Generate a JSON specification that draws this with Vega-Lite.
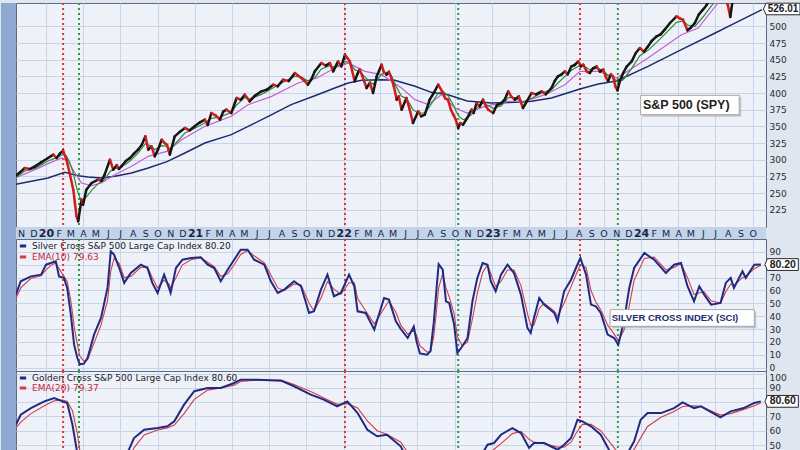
{
  "$schema": "https://vega.github.io/schema/vega-lite/v6.json",
  "padding": 0,
  "spacing": 12,
  "bounds": "flush",
  "background": "#dfe6f0",
  "config": {
    "font": "DejaVu Sans",
    "view": {"fill": "#eef2f8", "stroke": "#5f6b80", "strokeWidth": 1},
    "axis": {"labelFont": "DejaVu Sans", "labelColor": "#2b2b2b", "labelFontSize": 9, "gridColor": "#c6d5e7", "gridWidth": 1}
  },
  "resolve": {"scale": {"x": "independent", "y": "independent", "color": "independent"}},
  "datasets": {
    "signals": [
      {"date": "2020-02-12", "kind": "sell"},
      {"date": "2020-03-22", "kind": "buy"},
      {"date": "2022-01-04", "kind": "sell"},
      {"date": "2022-10-09", "kind": "buy"},
      {"date": "2023-08-04", "kind": "sell"},
      {"date": "2023-11-05", "kind": "buy"}
    ],
    "price": [
      {"date":"2019-10-17","v":275},{"date":"2019-10-29","v":281},{"date":"2019-11-10","v":287.5},{"date":"2019-11-22","v":286},{"date":"2019-12-05","v":290},{"date":"2019-12-20","v":296},{"date":"2020-01-06","v":302.5},{"date":"2020-01-19","v":307.5},{"date":"2020-01-27","v":302.5},{"date":"2020-02-04","v":309},{"date":"2020-02-12","v":313.5},{"date":"2020-02-20","v":300},{"date":"2020-02-28","v":280},{"date":"2020-03-08","v":255},{"date":"2020-03-12","v":235},{"date":"2020-03-16","v":215},{"date":"2020-03-20","v":207.5},{"date":"2020-03-28","v":240},{"date":"2020-04-01","v":232.5},{"date":"2020-04-09","v":255},{"date":"2020-04-22","v":265},{"date":"2020-05-08","v":270},{"date":"2020-05-16","v":268},{"date":"2020-05-24","v":277.5},{"date":"2020-06-06","v":300},{"date":"2020-06-14","v":285},{"date":"2020-06-23","v":292},{"date":"2020-06-28","v":286},{"date":"2020-07-04","v":290},{"date":"2020-07-15","v":298},{"date":"2020-07-25","v":302.5},{"date":"2020-08-04","v":309},{"date":"2020-08-14","v":315},{"date":"2020-08-23","v":322},{"date":"2020-09-01","v":335},{"date":"2020-09-08","v":315},{"date":"2020-09-16","v":320},{"date":"2020-09-24","v":305},{"date":"2020-10-02","v":315},{"date":"2020-10-11","v":330},{"date":"2020-10-18","v":325},{"date":"2020-10-24","v":322.5},{"date":"2020-10-31","v":307.5},{"date":"2020-11-12","v":335},{"date":"2020-11-25","v":342},{"date":"2020-12-07","v":347.5},{"date":"2020-12-19","v":344},{"date":"2020-12-31","v":350},{"date":"2021-01-13","v":356},{"date":"2021-01-25","v":360},{"date":"2021-02-01","v":352},{"date":"2021-02-10","v":370},{"date":"2021-02-21","v":366},{"date":"2021-03-03","v":360},{"date":"2021-03-11","v":372},{"date":"2021-03-19","v":375},{"date":"2021-03-31","v":370},{"date":"2021-04-13","v":392.5},{"date":"2021-04-23","v":390},{"date":"2021-05-03","v":397.5},{"date":"2021-05-15","v":387.5},{"date":"2021-05-28","v":396},{"date":"2021-06-13","v":402.5},{"date":"2021-06-26","v":405},{"date":"2021-07-12","v":412.5},{"date":"2021-07-23","v":410},{"date":"2021-08-05","v":420},{"date":"2021-08-19","v":418},{"date":"2021-09-03","v":430},{"date":"2021-09-11","v":426},{"date":"2021-09-19","v":422.5},{"date":"2021-09-27","v":418},{"date":"2021-10-05","v":412.5},{"date":"2021-10-13","v":420},{"date":"2021-10-22","v":432.5},{"date":"2021-11-07","v":445},{"date":"2021-11-18","v":441},{"date":"2021-11-28","v":445},{"date":"2021-12-06","v":432.5},{"date":"2021-12-18","v":447.5},{"date":"2021-12-26","v":440},{"date":"2022-01-04","v":457.5},{"date":"2022-01-16","v":447.5},{"date":"2022-01-28","v":417.5},{"date":"2022-02-03","v":428},{"date":"2022-02-09","v":435},{"date":"2022-02-16","v":425},{"date":"2022-02-26","v":407.5},{"date":"2022-03-06","v":415},{"date":"2022-03-14","v":400},{"date":"2022-03-23","v":425},{"date":"2022-04-04","v":442.5},{"date":"2022-04-09","v":432},{"date":"2022-04-16","v":427.5},{"date":"2022-04-22","v":432},{"date":"2022-04-28","v":422.5},{"date":"2022-05-04","v":410},{"date":"2022-05-11","v":390},{"date":"2022-05-16","v":395},{"date":"2022-05-23","v":375},{"date":"2022-06-04","v":392.5},{"date":"2022-06-12","v":375},{"date":"2022-06-20","v":355},{"date":"2022-07-03","v":372.5},{"date":"2022-07-10","v":365},{"date":"2022-07-19","v":367.5},{"date":"2022-07-31","v":390},{"date":"2022-08-10","v":400},{"date":"2022-08-21","v":412.5},{"date":"2022-09-02","v":400},{"date":"2022-09-07","v":392},{"date":"2022-09-14","v":390},{"date":"2022-09-21","v":375},{"date":"2022-09-27","v":367.5},{"date":"2022-10-03","v":360},{"date":"2022-10-09","v":347.5},{"date":"2022-10-14","v":355},{"date":"2022-10-21","v":352.5},{"date":"2022-10-31","v":362.5},{"date":"2022-11-11","v":375},{"date":"2022-11-16","v":370},{"date":"2022-11-23","v":385},{"date":"2022-12-01","v":380},{"date":"2022-12-09","v":390},{"date":"2022-12-16","v":380},{"date":"2022-12-22","v":375},{"date":"2023-01-03","v":370},{"date":"2023-01-12","v":382},{"date":"2023-01-23","v":385},{"date":"2023-01-31","v":390},{"date":"2023-02-09","v":402.5},{"date":"2023-02-16","v":395},{"date":"2023-02-25","v":390},{"date":"2023-03-07","v":395},{"date":"2023-03-17","v":377.5},{"date":"2023-03-27","v":388},{"date":"2023-04-07","v":400},{"date":"2023-04-18","v":398},{"date":"2023-05-02","v":402.5},{"date":"2023-05-12","v":398},{"date":"2023-05-26","v":407.5},{"date":"2023-06-03","v":418},{"date":"2023-06-11","v":425},{"date":"2023-06-20","v":428},{"date":"2023-06-28","v":432.5},{"date":"2023-07-05","v":428},{"date":"2023-07-14","v":440},{"date":"2023-07-22","v":442},{"date":"2023-07-31","v":447.5},{"date":"2023-08-06","v":440},{"date":"2023-08-12","v":442.5},{"date":"2023-08-21","v":432},{"date":"2023-08-28","v":430},{"date":"2023-09-05","v":437},{"date":"2023-09-14","v":440},{"date":"2023-09-22","v":432},{"date":"2023-09-30","v":435},{"date":"2023-10-06","v":425},{"date":"2023-10-12","v":417.5},{"date":"2023-10-19","v":428},{"date":"2023-10-24","v":425},{"date":"2023-10-30","v":410},{"date":"2023-11-04","v":404},{"date":"2023-11-10","v":418},{"date":"2023-11-18","v":430},{"date":"2023-11-27","v":440},{"date":"2023-12-09","v":447.5},{"date":"2023-12-19","v":460},{"date":"2023-12-29","v":467.5},{"date":"2024-01-08","v":462},{"date":"2024-01-18","v":470},{"date":"2024-01-27","v":478},{"date":"2024-02-08","v":485},{"date":"2024-02-18","v":488},{"date":"2024-02-28","v":495},{"date":"2024-03-12","v":505},{"date":"2024-03-28","v":515},{"date":"2024-04-05","v":512},{"date":"2024-04-13","v":510},{"date":"2024-04-24","v":494},{"date":"2024-05-02","v":498},{"date":"2024-05-12","v":505},{"date":"2024-05-22","v":518},{"date":"2024-06-01","v":525},{"date":"2024-06-10","v":532},{"date":"2024-06-17","v":540},{"date":"2024-07-02","v":548},{"date":"2024-07-14","v":560},{"date":"2024-07-24","v":545},{"date":"2024-08-01","v":532},{"date":"2024-08-07","v":514},{"date":"2024-08-13","v":540},{"date":"2024-08-25","v":555},{"date":"2024-09-06","v":545},{"date":"2024-09-18","v":560},{"date":"2024-10-02","v":565},{"date":"2024-10-14","v":575},{"date":"2024-10-24","v":572}
    ],
    "green": [
      {"date":"2019-10-17","v":273},{"date":"2019-11-10","v":283},{"date":"2019-12-05","v":287},{"date":"2020-01-06","v":298},{"date":"2020-01-27","v":303},{"date":"2020-02-12","v":308},{"date":"2020-02-20","v":306},{"date":"2020-02-28","v":296},{"date":"2020-03-08","v":280},{"date":"2020-03-16","v":258},{"date":"2020-03-24","v":243},{"date":"2020-04-01","v":240},{"date":"2020-04-09","v":244},{"date":"2020-04-22","v":254},{"date":"2020-05-08","v":264},{"date":"2020-05-24","v":270},{"date":"2020-06-06","v":282},{"date":"2020-06-14","v":286},{"date":"2020-06-28","v":288},{"date":"2020-07-15","v":293},{"date":"2020-07-25","v":298},{"date":"2020-08-14","v":310},{"date":"2020-09-01","v":324},{"date":"2020-09-16","v":320},{"date":"2020-09-24","v":315},{"date":"2020-10-11","v":321},{"date":"2020-10-24","v":320},{"date":"2020-10-31","v":316},{"date":"2020-11-12","v":323},{"date":"2020-12-07","v":340},{"date":"2020-12-31","v":347},{"date":"2021-01-25","v":355},{"date":"2021-02-10","v":362},{"date":"2021-03-03","v":364},{"date":"2021-03-19","v":368},{"date":"2021-03-31","v":371},{"date":"2021-04-13","v":382},{"date":"2021-05-03","v":393},{"date":"2021-05-15","v":391},{"date":"2021-06-13","v":398},{"date":"2021-07-12","v":408},{"date":"2021-08-05","v":416},{"date":"2021-09-03","v":425},{"date":"2021-09-19","v":424},{"date":"2021-10-05","v":418},{"date":"2021-10-22","v":423},{"date":"2021-11-07","v":436},{"date":"2021-11-28","v":441},{"date":"2021-12-06","v":439},{"date":"2021-12-18","v":441},{"date":"2022-01-04","v":447},{"date":"2022-01-16","v":446},{"date":"2022-01-28","v":435},{"date":"2022-02-09","v":432},{"date":"2022-02-26","v":422},{"date":"2022-03-14","v":413},{"date":"2022-04-04","v":428},{"date":"2022-04-16","v":431},{"date":"2022-04-28","v":426},{"date":"2022-05-11","v":408},{"date":"2022-05-23","v":395},{"date":"2022-06-04","v":392},{"date":"2022-06-20","v":375},{"date":"2022-07-03","v":370},{"date":"2022-07-19","v":370},{"date":"2022-07-31","v":380},{"date":"2022-08-21","v":400},{"date":"2022-09-02","v":402},{"date":"2022-09-14","v":396},{"date":"2022-09-27","v":382},{"date":"2022-10-09","v":366},{"date":"2022-10-21","v":360},{"date":"2022-10-31","v":362},{"date":"2022-11-11","v":368},{"date":"2022-11-23","v":377},{"date":"2022-12-09","v":385},{"date":"2022-12-22","v":381},{"date":"2023-01-03","v":377},{"date":"2023-01-23","v":381},{"date":"2023-02-09","v":393},{"date":"2023-02-25","v":393},{"date":"2023-03-17","v":386},{"date":"2023-04-07","v":392},{"date":"2023-05-02","v":400},{"date":"2023-05-26","v":405},{"date":"2023-06-11","v":415},{"date":"2023-06-28","v":425},{"date":"2023-07-14","v":434},{"date":"2023-07-31","v":440},{"date":"2023-08-12","v":441},{"date":"2023-08-28","v":435},{"date":"2023-09-14","v":437},{"date":"2023-09-30","v":434},{"date":"2023-10-12","v":426},{"date":"2023-10-24","v":424},{"date":"2023-11-04","v":416},{"date":"2023-11-18","v":420},{"date":"2023-12-09","v":437},{"date":"2023-12-29","v":456},{"date":"2024-01-18","v":464},{"date":"2024-02-08","v":476},{"date":"2024-02-28","v":488},{"date":"2024-03-28","v":506},{"date":"2024-04-13","v":508},{"date":"2024-04-24","v":502},{"date":"2024-05-12","v":500},{"date":"2024-06-01","v":514},{"date":"2024-06-17","v":527},{"date":"2024-07-14","v":548},{"date":"2024-08-07","v":535},{"date":"2024-09-06","v":540},{"date":"2024-10-24","v":565}
    ],
    "mag": [
      {"date":"2019-10-17","v":272.5},{"date":"2019-12-05","v":285},{"date":"2020-01-06","v":294},{"date":"2020-02-08","v":302.5},{"date":"2020-02-24","v":298},{"date":"2020-03-12","v":280},{"date":"2020-03-28","v":265},{"date":"2020-04-22","v":261},{"date":"2020-05-16","v":265},{"date":"2020-06-18","v":277.5},{"date":"2020-07-29","v":290},{"date":"2020-09-08","v":305},{"date":"2020-10-24","v":312.5},{"date":"2020-11-29","v":330},{"date":"2021-01-25","v":350},{"date":"2021-03-31","v":365},{"date":"2021-05-11","v":382.5},{"date":"2021-07-08","v":395},{"date":"2021-09-11","v":415},{"date":"2021-10-27","v":422.5},{"date":"2021-12-10","v":437.5},{"date":"2022-01-12","v":445},{"date":"2022-02-22","v":432.5},{"date":"2022-04-04","v":427.5},{"date":"2022-05-23","v":407.5},{"date":"2022-06-25","v":390},{"date":"2022-07-27","v":382.5},{"date":"2022-08-29","v":397.5},{"date":"2022-10-01","v":377.5},{"date":"2022-10-31","v":370},{"date":"2022-12-13","v":380},{"date":"2023-02-09","v":387.5},{"date":"2023-03-22","v":387.5},{"date":"2023-05-10","v":397.5},{"date":"2023-06-28","v":412.5},{"date":"2023-08-04","v":432.5},{"date":"2023-09-18","v":432.5},{"date":"2023-11-02","v":422.5},{"date":"2023-11-22","v":430},{"date":"2024-01-18","v":452.5},{"date":"2024-04-09","v":487.5},{"date":"2024-05-20","v":497.5},{"date":"2024-07-08","v":535},{"date":"2024-08-21","v":545},{"date":"2024-10-24","v":560}
    ],
    "navy": [
      {"date":"2019-10-17","v":263},{"date":"2020-01-06","v":272.5},{"date":"2020-02-16","v":281},{"date":"2020-03-20","v":276},{"date":"2020-04-13","v":274},{"date":"2020-05-16","v":272.5},{"date":"2020-06-18","v":275},{"date":"2020-07-29","v":280},{"date":"2020-09-08","v":287.5},{"date":"2020-10-24","v":297},{"date":"2020-12-07","v":310},{"date":"2021-01-25","v":325},{"date":"2021-03-31","v":337.5},{"date":"2021-05-20","v":352.5},{"date":"2021-07-08","v":367.5},{"date":"2021-08-25","v":382.5},{"date":"2021-10-27","v":397},{"date":"2021-12-10","v":407.5},{"date":"2022-01-12","v":415},{"date":"2022-02-14","v":419},{"date":"2022-04-04","v":420},{"date":"2022-05-06","v":419},{"date":"2022-06-25","v":410},{"date":"2022-08-04","v":401},{"date":"2022-09-14","v":397.5},{"date":"2022-10-31","v":388},{"date":"2022-12-30","v":385},{"date":"2023-02-25","v":386},{"date":"2023-04-07","v":387.5},{"date":"2023-05-26","v":392.5},{"date":"2023-06-28","v":399},{"date":"2023-08-04","v":406},{"date":"2023-09-18","v":413.5},{"date":"2023-11-02","v":418},{"date":"2024-01-18","v":440},{"date":"2024-04-09","v":465},{"date":"2024-07-01","v":490},{"date":"2024-08-11","v":502.5},{"date":"2024-10-24","v":525}
    ],
    "sci": [
      {"date":"2019-10-19","s":56.8,"e":54},{"date":"2019-10-31","s":67.2,"e":62},{"date":"2019-11-25","s":71,"e":69.5},{"date":"2019-12-20","s":72.3,"e":71.5},{"date":"2020-01-01","s":80.1,"e":76},{"date":"2020-01-13","s":81.4,"e":79.5},{"date":"2020-01-25","s":82.8,"e":81.5},{"date":"2020-02-02","s":71,"e":77},{"date":"2020-02-14","s":69.8,"e":71},{"date":"2020-02-22","s":62,"e":67},{"date":"2020-03-02","s":41.2,"e":52},{"date":"2020-03-10","s":17.8,"e":32},{"date":"2020-03-18","s":7.4,"e":18},{"date":"2020-03-24","s":2.5,"e":9},{"date":"2020-04-03","s":3,"e":5},{"date":"2020-04-12","s":7.4,"e":6},{"date":"2020-04-28","s":25.6,"e":19},{"date":"2020-05-15","s":38.6,"e":33},{"date":"2020-05-31","s":62,"e":52},{"date":"2020-06-08","s":90.5,"e":75},{"date":"2020-06-16","s":87.9,"e":85},{"date":"2020-06-29","s":77.5,"e":81},{"date":"2020-07-11","s":65.9,"e":70},{"date":"2020-07-27","s":73.6,"e":71},{"date":"2020-08-21","s":80.1,"e":78},{"date":"2020-09-06","s":77.5,"e":78.5},{"date":"2020-09-18","s":65.9,"e":70},{"date":"2020-10-01","s":58.1,"e":62},{"date":"2020-10-17","s":72.3,"e":68},{"date":"2020-10-29","s":62,"e":65},{"date":"2020-11-02","s":58.1,"e":62},{"date":"2020-11-15","s":77.5,"e":70},{"date":"2020-12-01","s":84,"e":80},{"date":"2020-12-22","s":85.3,"e":84},{"date":"2021-01-15","s":85.8,"e":85.5},{"date":"2021-02-01","s":80.1,"e":82},{"date":"2021-02-17","s":77.5,"e":78.5},{"date":"2021-03-05","s":67.2,"e":71},{"date":"2021-03-22","s":76.2,"e":73},{"date":"2021-04-07","s":84,"e":80},{"date":"2021-04-23","s":91.8,"e":88},{"date":"2021-05-10","s":91.8,"e":91},{"date":"2021-05-26","s":84,"e":87},{"date":"2021-06-20","s":80.1,"e":81.5},{"date":"2021-07-06","s":67.2,"e":72},{"date":"2021-07-23","s":58.1,"e":62},{"date":"2021-08-08","s":60.7,"e":60},{"date":"2021-09-01","s":67.2,"e":65},{"date":"2021-09-18","s":63.3,"e":64.5},{"date":"2021-10-08","s":42.5,"e":50},{"date":"2021-10-20","s":43.8,"e":44},{"date":"2021-11-06","s":60.7,"e":54},{"date":"2021-11-22","s":72.3,"e":67},{"date":"2021-12-08","s":55.5,"e":61},{"date":"2021-12-25","s":58.1,"e":57},{"date":"2022-01-14","s":72.3,"e":66},{"date":"2022-01-27","s":63.3,"e":66},{"date":"2022-02-04","s":43.8,"e":54},{"date":"2022-02-24","s":42.5,"e":44},{"date":"2022-03-17","s":29.5,"e":34},{"date":"2022-04-10","s":54.2,"e":46},{"date":"2022-04-22","s":52.9,"e":52},{"date":"2022-05-09","s":36,"e":43},{"date":"2022-05-21","s":30,"e":33},{"date":"2022-06-07","s":23,"e":26},{"date":"2022-06-22","s":32,"e":29},{"date":"2022-06-29","s":20,"e":25},{"date":"2022-07-07","s":11,"e":17},{"date":"2022-07-25","s":10,"e":12},{"date":"2022-08-02","s":13,"e":12},{"date":"2022-08-10","s":35,"e":24},{"date":"2022-08-17","s":62,"e":45},{"date":"2022-08-22","s":80.5,"e":62},{"date":"2022-09-01","s":76.2,"e":73},{"date":"2022-09-09","s":51.6,"e":62},{"date":"2022-09-17","s":50.3,"e":55},{"date":"2022-09-29","s":33.4,"e":42},{"date":"2022-10-07","s":11.3,"e":24},{"date":"2022-10-19","s":16.6,"e":17},{"date":"2022-11-01","s":23,"e":20},{"date":"2022-11-13","s":51.6,"e":38},{"date":"2022-11-25","s":69.8,"e":58},{"date":"2022-12-08","s":81.4,"e":74},{"date":"2022-12-20","s":80.1,"e":80},{"date":"2022-12-28","s":67.2,"e":73},{"date":"2023-01-09","s":59.4,"e":63},{"date":"2023-01-22","s":72.3,"e":67},{"date":"2023-02-07","s":80.1,"e":76},{"date":"2023-02-23","s":73.6,"e":76},{"date":"2023-03-12","s":56.8,"e":64},{"date":"2023-03-28","s":30.8,"e":42},{"date":"2023-04-05","s":26.9,"e":33},{"date":"2023-04-13","s":38.6,"e":33},{"date":"2023-04-26","s":54.2,"e":46},{"date":"2023-05-08","s":49,"e":50},{"date":"2023-06-02","s":42.5,"e":44},{"date":"2023-06-10","s":36,"e":40},{"date":"2023-06-26","s":59.4,"e":50},{"date":"2023-07-13","s":68.4,"e":63},{"date":"2023-07-25","s":77.5,"e":72},{"date":"2023-08-05","s":85.3,"e":80},{"date":"2023-08-19","s":72.3,"e":78},{"date":"2023-08-31","s":49,"e":60},{"date":"2023-09-12","s":47.7,"e":51},{"date":"2023-09-24","s":42.5,"e":45},{"date":"2023-10-11","s":25.6,"e":33},{"date":"2023-10-27","s":23,"e":26},{"date":"2023-11-06","s":17.8,"e":21},{"date":"2023-11-20","s":36,"e":29},{"date":"2023-12-03","s":62,"e":48},{"date":"2023-12-15","s":77.5,"e":68},{"date":"2024-01-09","s":89.2,"e":85},{"date":"2024-02-02","s":84,"e":86},{"date":"2024-03-02","s":73.6,"e":76},{"date":"2024-03-22","s":80.1,"e":78},{"date":"2024-04-08","s":81.4,"e":81},{"date":"2024-04-24","s":63.3,"e":70},{"date":"2024-05-10","s":51.6,"e":57},{"date":"2024-05-23","s":63.3,"e":58},{"date":"2024-06-04","s":56.8,"e":59},{"date":"2024-06-21","s":49,"e":52},{"date":"2024-07-14","s":50.3,"e":50},{"date":"2024-07-27","s":65.9,"e":59},{"date":"2024-08-08","s":69.8,"e":65},{"date":"2024-08-16","s":62,"e":64},{"date":"2024-09-06","s":75,"e":70},{"date":"2024-09-14","s":69.8,"e":71},{"date":"2024-10-05","s":80.1,"e":77},{"date":"2024-10-21","s":80.2,"e":79.6}
    ],
    "gold": [
      {"date":"2019-10-19","g":64.2,"e":62},{"date":"2019-10-31","g":71.2,"e":66},{"date":"2019-11-25","g":75.9,"e":72},{"date":"2019-12-28","g":80.6,"e":77.5},{"date":"2020-01-21","g":83,"e":81},{"date":"2020-02-11","g":80.6,"e":81.5},{"date":"2020-02-22","g":79.5,"e":80.5},{"date":"2020-03-06","g":64.2,"e":74},{"date":"2020-03-18","g":44,"e":58},{"date":"2020-03-26","g":25,"e":42},{"date":"2020-04-20","g":12,"e":20},{"date":"2020-06-08","g":20,"e":16},{"date":"2020-07-03","g":35,"e":28},{"date":"2020-07-19","g":44.4,"e":38},{"date":"2020-08-04","g":54.9,"e":48},{"date":"2020-08-29","g":60.7,"e":57},{"date":"2020-10-01","g":61.9,"e":60.5},{"date":"2020-10-25","g":63.1,"e":62},{"date":"2020-11-11","g":66.6,"e":64},{"date":"2020-12-05","g":78.3,"e":72},{"date":"2020-12-30","g":87.7,"e":82},{"date":"2021-02-01","g":90,"e":88.5},{"date":"2021-03-05","g":90,"e":90},{"date":"2021-04-07","g":93.5,"e":92},{"date":"2021-04-23","g":95.8,"e":94.5},{"date":"2021-06-03","g":95.8,"e":95.5},{"date":"2021-07-31","g":95.1,"e":95.5},{"date":"2021-09-01","g":91.2,"e":92.5},{"date":"2021-10-12","g":85.3,"e":87.5},{"date":"2021-11-13","g":81.8,"e":83},{"date":"2021-12-16","g":77.1,"e":78.5},{"date":"2022-01-10","g":80.6,"e":79},{"date":"2022-02-04","g":72.4,"e":76},{"date":"2022-02-28","g":60.7,"e":67},{"date":"2022-03-24","g":56.1,"e":60},{"date":"2022-04-17","g":57.2,"e":57.5},{"date":"2022-05-21","g":49.1,"e":52},{"date":"2022-06-14","g":35,"e":42},{"date":"2022-07-21","g":22,"e":28},{"date":"2022-08-26","g":28,"e":25},{"date":"2022-10-08","g":18,"e":22},{"date":"2022-11-09","g":30,"e":25},{"date":"2022-12-08","g":44.4,"e":36},{"date":"2022-12-20","g":50.2,"e":43},{"date":"2023-01-05","g":51.4,"e":47},{"date":"2023-01-22","g":57.2,"e":51},{"date":"2023-02-19","g":61.9,"e":58},{"date":"2023-03-12","g":58.4,"e":59.5},{"date":"2023-04-01","g":48,"e":54},{"date":"2023-04-13","g":51.4,"e":52},{"date":"2023-05-08","g":51.4,"e":51},{"date":"2023-06-10","g":46.7,"e":48.5},{"date":"2023-06-26","g":50.2,"e":48.5},{"date":"2023-07-13","g":54.9,"e":52},{"date":"2023-07-29","g":67.7,"e":60},{"date":"2023-08-10","g":66.6,"e":64.5},{"date":"2023-08-31","g":63.1,"e":64.5},{"date":"2023-09-24","g":57.2,"e":60},{"date":"2023-10-27","g":40,"e":48},{"date":"2023-11-12","g":38,"e":42},{"date":"2023-11-29","g":44.4,"e":43},{"date":"2023-12-15","g":52.6,"e":47},{"date":"2023-12-31","g":67.7,"e":55},{"date":"2024-01-17","g":72.4,"e":63},{"date":"2024-02-19","g":72.4,"e":69.5},{"date":"2024-03-22","g":75.9,"e":73.5},{"date":"2024-04-12","g":79.9,"e":77},{"date":"2024-05-10","g":75.9,"e":77.5},{"date":"2024-05-27","g":77.1,"e":77},{"date":"2024-07-14","g":69.4,"e":71},{"date":"2024-08-08","g":73.6,"e":72},{"date":"2024-09-09","g":75.9,"e":75},{"date":"2024-10-05","g":79.5,"e":77.5},{"date":"2024-10-21","g":80.6,"e":79.4}
    ]
  },
  "vconcat": [
    {
      "width": 750,
      "height": 224,
      "resolve": {"axis": {"x": "independent", "y": "independent"}},
      "layer": [
        {
          "data": {"values": [{}]},
          "mark": {"type": "rect", "fill": "#8eaad2"},
          "encoding": {
            "x": {"datum": {"year": 2019, "month": 9, "date": 12, "hours": 12}, "type": "temporal", "axis": null, "scale": {"domain": [{"year": 2019, "month": 10, "date": 19, "hours": 8}, {"year": 2024, "month": 11, "date": 2, "hours": 17}]}},
            "x2": {"datum": {"year": 2019, "month": 10, "date": 19, "hours": 8}},
            "y": {"datum": 181, "type": "quantitative", "axis": null, "scale": {"domain": [199, 535], "nice": false, "zero": false}},
            "y2": {"datum": 535}
          }
        },
        {
          "data": {"values": [{}]},
          "mark": {"type": "rect", "fill": "#c2d4ea"},
          "encoding": {
            "x": {"datum": {"year": 2019, "month": 10, "date": 19, "hours": 8}, "type": "temporal", "axis": null},
            "x2": {"datum": {"year": 2024, "month": 11, "date": 2, "hours": 17}},
            "y": {"datum": 181, "type": "quantitative", "axis": null},
            "y2": {"datum": 199}
          }
        },
        {
          "data": {"name": "signals"},
          "mark": {"type": "rule", "strokeWidth": 2, "strokeDash": [2, 3], "clip": true},
          "encoding": {
            "x": {
              "field": "date", "type": "temporal",
              "axis": {"orient": "top", "title": null, "labels": false, "ticks": false, "domain": false, "tickCount": {"interval": "month", "step": 3}, "grid": true, "gridColor": "#c6d5e7"}
            },
            "color": {"condition": {"test": "datum.kind == 'sell'", "value": "#d8383a"}, "value": "#2f9a46"}
          }
        },
        {
          "data": {"name": "navy"},
          "mark": {"type": "line", "color": "#1f2a6e", "strokeWidth": 1.5, "clip": true},
          "encoding": {
            "x": {
              "field": "date", "type": "temporal",
              "axis": {
                "orient": "bottom", "title": null, "zindex": 1,
                "tickCount": {"interval": "month", "step": 1},
                "labelExpr": "(year(datum.value) == 2024 && month(datum.value) == 10) ? '' : (month(datum.value) == 0 ? timeFormat(datum.value, '%y') : slice(timeFormat(datum.value, '%b'), 0, 1))",
                "labelFontSize": {"condition": {"test": "month(datum.value) == 0", "value": 11}, "value": 9.5},
                "labelFontWeight": {"condition": {"test": "month(datum.value) == 0", "value": "bold"}, "value": "normal"},
                "labelColor": "#1c2440",
                "labelBaseline": "middle",
                "labelPadding": 6,
                "labelOverlap": false,
                "labelFlush": false,
                "labelBound": false,
                "ticks": false,
                "tickSize": 0,
                "domain": false,
                "grid": false
              }
            },
            "y": {
              "field": "v", "type": "quantitative",
              "axis": {"orient": "right", "title": null, "values": [225, 250, 275, 300, 325, 350, 375, 400, 425, 450, 475, 500], "labelOverlap": false, "ticks": false, "domain": false, "labelPadding": 3, "grid": true}
            }
          }
        },
        {
          "data": {"name": "mag"},
          "mark": {"type": "line", "color": "#c25fd6", "strokeWidth": 1.2, "clip": true},
          "encoding": {
            "x": {"field": "date", "type": "temporal", "axis": null},
            "y": {"field": "v", "type": "quantitative", "axis": null}
          }
        },
        {
          "data": {"name": "green"},
          "mark": {"type": "line", "color": "#2c8a34", "strokeWidth": 1.2, "clip": true},
          "encoding": {
            "x": {"field": "date", "type": "temporal", "axis": null},
            "y": {"field": "v", "type": "quantitative", "axis": null}
          }
        },
        {
          "data": {"name": "price", "format": {"parse": {"date": "date"}}},
          "transform": [
            {"window": [{"op": "lag", "field": "v", "as": "pv"}, {"op": "lag", "field": "date", "as": "pd"}], "sort": [{"field": "date", "order": "ascending"}]},
            {"filter": "datum.pv != null"}
          ],
          "mark": {"type": "rule", "strokeWidth": 2.5, "strokeCap": "round", "clip": true},
          "encoding": {
            "x": {"field": "pd", "type": "temporal", "axis": null},
            "x2": {"field": "date"},
            "y": {"field": "pv", "type": "quantitative", "axis": null},
            "y2": {"field": "v"},
            "color": {"condition": {"test": "datum.v < datum.pv", "value": "#d01c1c"}, "value": "#151515"}
          }
        },
        {
          "data": {"values": [{}]},
          "mark": {"type": "rect", "fill": "#9aa0aa", "opacity": 0.55, "xOffset": 2, "x2Offset": 2, "yOffset": 2, "y2Offset": 2},
          "encoding": {
            "x": {"datum": {"year": 2023, "month": 12, "date": 31}, "type": "temporal", "axis": null},
            "x2": {"datum": {"year": 2024, "month": 8, "date": 29}},
            "y": {"datum": 396.5, "type": "quantitative", "axis": null},
            "y2": {"datum": 367.5}
          }
        },
        {
          "data": {"values": [{}]},
          "mark": {"type": "rect", "fill": "#ffffff", "stroke": "#a8a8a8", "strokeWidth": 1},
          "encoding": {
            "x": {"datum": {"year": 2023, "month": 12, "date": 31}, "type": "temporal", "axis": null},
            "x2": {"datum": {"year": 2024, "month": 8, "date": 29}},
            "y": {"datum": 396.5, "type": "quantitative", "axis": null},
            "y2": {"datum": 367.5}
          }
        },
        {
          "data": {"values": [{}]},
          "mark": {"type": "text", "text": "S&P 500 (SPY)", "font": "Liberation Sans", "fontWeight": "bold", "fontSize": 12.5, "color": "#222222", "align": "center", "baseline": "middle"},
          "encoding": {
            "x": {"datum": {"year": 2024, "month": 4, "date": 21}, "type": "temporal", "axis": null},
            "y": {"datum": 382, "type": "quantitative", "axis": null}
          }
        },
        {
          "data": {"values": [{}]},
          "mark": {"type": "point", "shape": "M-1.15,0L-1,-0.34L1,-0.34L1,0.34L-1,0.34Z", "size": 1156, "filled": true, "fill": "#ffffff", "stroke": "#2a2a2a", "strokeWidth": 1, "opacity": 1, "xOffset": 21},
          "encoding": {
            "x": {"datum": {"year": 2024, "month": 10, "date": 24}, "type": "temporal", "axis": null},
            "y": {"datum": 526.01, "type": "quantitative", "axis": null}
          }
        },
        {
          "data": {"values": [{}]},
          "mark": {"type": "text", "text": "526.01", "font": "Liberation Sans", "fontWeight": "bold", "fontSize": 10, "color": "#1a1a1a", "align": "center", "baseline": "middle", "xOffset": 21},
          "encoding": {
            "x": {"datum": {"year": 2024, "month": 10, "date": 24}, "type": "temporal", "axis": null},
            "y": {"datum": 526.01, "type": "quantitative", "axis": null}
          }
        }
      ]
    },
    {
      "spacing": 0,
      "bounds": "flush",
      "resolve": {"scale": {"x": "independent", "y": "independent", "color": "independent"}},
      "vconcat": [
        {
          "width": 750,
          "height": 132,
          "resolve": {"axis": {"x": "independent", "y": "independent"}},
          "layer": [
            {
              "data": {"values": [{}]},
              "mark": {"type": "rect", "fill": "#8eaad2"},
              "encoding": {
                "x": {"datum": {"year": 2019, "month": 9, "date": 12, "hours": 12}, "type": "temporal", "axis": null, "scale": {"domain": [{"year": 2019, "month": 10, "date": 19, "hours": 8}, {"year": 2024, "month": 11, "date": 2, "hours": 17}]}},
                "x2": {"datum": {"year": 2019, "month": 10, "date": 19, "hours": 8}},
                "y": {"datum": -2.7, "type": "quantitative", "axis": null, "scale": {"domain": [-2.7, 100.1], "nice": false, "zero": false}},
                "y2": {"datum": 100.1}
              }
            },
            {
              "data": {"name": "signals"},
              "mark": {"type": "rule", "strokeWidth": 2, "strokeDash": [2, 3], "clip": true},
              "encoding": {
                "x": {
                  "field": "date", "type": "temporal",
                  "axis": {"orient": "bottom", "title": null, "labels": false, "ticks": false, "domain": false, "tickCount": {"interval": "month", "step": 3}, "grid": true, "gridColor": "#c6d5e7"}
                },
                "color": {"condition": {"test": "datum.kind == 'sell'", "value": "#d8383a"}, "value": "#2f9a46"}
              }
            },
            {
              "data": {"name": "sci"},
              "mark": {"type": "line", "strokeWidth": 1.1, "clip": true},
              "encoding": {
                "x": {"field": "date", "type": "temporal", "axis": null},
                "y": {
                  "field": "e", "type": "quantitative",
                  "axis": {"orient": "right", "title": null, "values": [0, 10, 20, 30, 40, 50, 60, 70, 80, 90], "labelExpr": "datum.value == 80 ? '' : datum.label", "labelOverlap": false, "ticks": false, "domain": false, "labelPadding": 3, "grid": true}
                },
                "color": {
                  "datum": "EMA(10) 79.63", "type": "nominal",
                  "scale": {"domain": ["Silver Cross S&P 500 Large Cap Index 80.20", "EMA(10) 79.63"], "range": ["#1f2a80", "#d23c4c"]},
                  "legend": {"orient": "top-left", "title": null, "offset": 2, "padding": 0, "symbolType": "stroke", "symbolStrokeWidth": 3, "symbolSize": 40, "clipHeight": 10, "labelFontSize": 9, "labelFont": "DejaVu Sans", "labelLimit": 400, "rowPadding": 1, "labelOffset": 4, "labelColor": {"expr": "indexof(datum.label, 'EMA') >= 0 ? '#c42838' : '#1a1a2a'"}}
                }
              }
            },
            {
              "data": {"name": "sci"},
              "mark": {"type": "line", "strokeWidth": 2, "clip": true},
              "encoding": {
                "x": {"field": "date", "type": "temporal", "axis": null},
                "y": {"field": "s", "type": "quantitative", "axis": null},
                "color": {"datum": "Silver Cross S&P 500 Large Cap Index 80.20", "type": "nominal"}
              }
            },
            {
              "data": {"values": [{}]},
              "mark": {"type": "rect", "fill": "#9aa0aa", "opacity": 0.55, "xOffset": 2, "x2Offset": 2, "yOffset": 2, "y2Offset": 2},
              "encoding": {
                "x": {"datum": {"year": 2023, "month": 10, "date": 17}, "type": "temporal", "axis": null},
                "x2": {"datum": {"year": 2024, "month": 10, "date": 5}},
                "y": {"datum": 45.1, "type": "quantitative", "axis": null},
                "y2": {"datum": 32.1}
              }
            },
            {
              "data": {"values": [{}]},
              "mark": {"type": "rect", "fill": "#ffffff", "stroke": "#a8a8a8", "strokeWidth": 1},
              "encoding": {
                "x": {"datum": {"year": 2023, "month": 10, "date": 17}, "type": "temporal", "axis": null},
                "x2": {"datum": {"year": 2024, "month": 10, "date": 5}},
                "y": {"datum": 45.1, "type": "quantitative", "axis": null},
                "y2": {"datum": 32.1}
              }
            },
            {
              "data": {"values": [{}]},
              "mark": {"type": "text", "text": "SILVER CROSS INDEX (SCI)", "font": "Liberation Sans", "fontWeight": "bold", "fontSize": 9.5, "color": "#1d2a6e", "align": "left", "baseline": "middle"},
              "encoding": {
                "x": {"datum": {"year": 2023, "month": 10, "date": 21}, "type": "temporal", "axis": null},
                "y": {"datum": 38.6, "type": "quantitative", "axis": null}
              }
            },
            {
              "data": {"values": [{}]},
              "mark": {"type": "point", "shape": "M-1.15,0L-1,-0.38L1,-0.38L1,0.38L-1,0.38Z", "size": 961, "filled": true, "fill": "#ffffff", "stroke": "#2a2a2a", "strokeWidth": 1, "opacity": 1, "xOffset": 22},
              "encoding": {
                "x": {"datum": {"year": 2024, "month": 10, "date": 21}, "type": "temporal", "axis": null},
                "y": {"datum": 80.2, "type": "quantitative", "axis": null}
              }
            },
            {
              "data": {"values": [{}]},
              "mark": {"type": "text", "text": "80.20", "font": "Liberation Sans", "fontWeight": "bold", "fontSize": 10.5, "color": "#1a1a1a", "align": "center", "baseline": "middle", "xOffset": 22},
              "encoding": {
                "x": {"datum": {"year": 2024, "month": 10, "date": 21}, "type": "temporal", "axis": null},
                "y": {"datum": 80.2, "type": "quantitative", "axis": null}
              }
            }
          ]
        },
        {
          "width": 750,
          "height": 80,
          "resolve": {"axis": {"x": "independent", "y": "independent"}},
          "layer": [
            {
              "data": {"values": [{}]},
              "mark": {"type": "rect", "fill": "#8eaad2"},
              "encoding": {
                "x": {"datum": {"year": 2019, "month": 9, "date": 12, "hours": 12}, "type": "temporal", "axis": null, "scale": {"domain": [{"year": 2019, "month": 10, "date": 19, "hours": 8}, {"year": 2024, "month": 11, "date": 2, "hours": 17}]}},
                "x2": {"datum": {"year": 2019, "month": 10, "date": 19, "hours": 8}},
                "y": {"datum": 45.8, "type": "quantitative", "axis": null, "scale": {"domain": [45.8, 101.9], "nice": false, "zero": false}},
                "y2": {"datum": 101.9}
              }
            },
            {
              "data": {"name": "signals"},
              "mark": {"type": "rule", "strokeWidth": 2, "strokeDash": [2, 3], "clip": true},
              "encoding": {
                "x": {
                  "field": "date", "type": "temporal",
                  "axis": {"orient": "bottom", "title": null, "labels": false, "ticks": false, "domain": false, "tickCount": {"interval": "month", "step": 3}, "grid": true, "gridColor": "#c6d5e7"}
                },
                "color": {"condition": {"test": "datum.kind == 'sell'", "value": "#d8383a"}, "value": "#2f9a46"}
              }
            },
            {
              "data": {"name": "gold"},
              "mark": {"type": "line", "strokeWidth": 1.1, "clip": true},
              "encoding": {
                "x": {"field": "date", "type": "temporal", "axis": null},
                "y": {
                  "field": "e", "type": "quantitative",
                  "axis": {"orient": "right", "title": null, "values": [50, 60, 70, 80, 90, 100], "labelExpr": "datum.value == 80 ? '' : datum.label", "labelBaseline": {"condition": {"test": "datum.value == 100", "value": "top"}, "value": "middle"}, "labelOverlap": false, "ticks": false, "domain": false, "labelPadding": 3, "grid": true}
                },
                "color": {
                  "datum": "EMA(20) 79.37", "type": "nominal",
                  "scale": {"domain": ["Golden Cross S&P 500 Large Cap Index 80.60", "EMA(20) 79.37"], "range": ["#1f2a80", "#d23c4c"]},
                  "legend": {"orient": "top-left", "title": null, "offset": 2, "padding": 0, "symbolType": "stroke", "symbolStrokeWidth": 3, "symbolSize": 40, "clipHeight": 10, "labelFontSize": 9, "labelFont": "DejaVu Sans", "labelLimit": 400, "rowPadding": 0, "labelOffset": 4, "labelColor": {"expr": "indexof(datum.label, 'EMA') >= 0 ? '#c42838' : '#1a1a2a'"}}
                }
              }
            },
            {
              "data": {"name": "gold"},
              "mark": {"type": "line", "strokeWidth": 2, "clip": true},
              "encoding": {
                "x": {"field": "date", "type": "temporal", "axis": null},
                "y": {"field": "g", "type": "quantitative", "axis": null},
                "color": {"datum": "Golden Cross S&P 500 Large Cap Index 80.60", "type": "nominal"}
              }
            },
            {
              "data": {"values": [{}]},
              "mark": {"type": "point", "shape": "M-1.15,0L-1,-0.38L1,-0.38L1,0.38L-1,0.38Z", "size": 961, "filled": true, "fill": "#ffffff", "stroke": "#2a2a2a", "strokeWidth": 1, "opacity": 1, "xOffset": 22},
              "encoding": {
                "x": {"datum": {"year": 2024, "month": 10, "date": 21}, "type": "temporal", "axis": null},
                "y": {"datum": 80.6, "type": "quantitative", "axis": null}
              }
            },
            {
              "data": {"values": [{}]},
              "mark": {"type": "text", "text": "80.60", "font": "Liberation Sans", "fontWeight": "bold", "fontSize": 10.5, "color": "#1a1a1a", "align": "center", "baseline": "middle", "xOffset": 22},
              "encoding": {
                "x": {"datum": {"year": 2024, "month": 10, "date": 21}, "type": "temporal", "axis": null},
                "y": {"datum": 80.6, "type": "quantitative", "axis": null}
              }
            }
          ]
        }
      ]
    }
  ]
}
